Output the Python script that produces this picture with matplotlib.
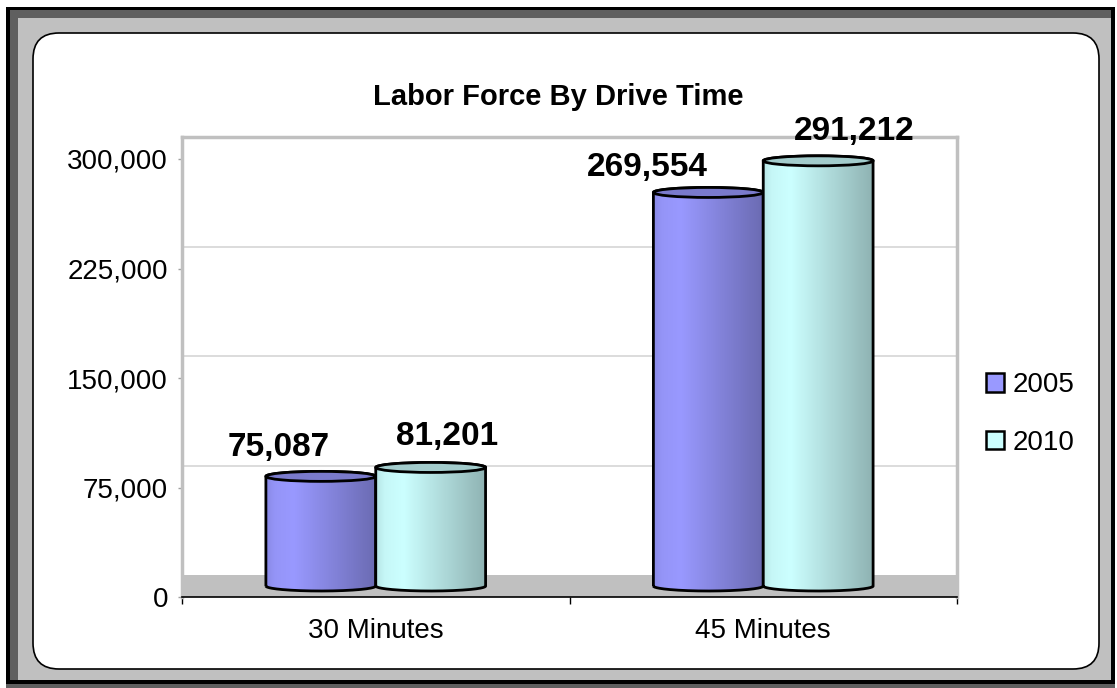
import numpy as np
import matplotlib
matplotlib.use("Agg")
import matplotlib.pyplot as plt
from matplotlib.patches import Rectangle, Ellipse, PathPatch, FancyBboxPatch, Patch
from matplotlib.path import Path
from matplotlib.transforms import IdentityTransform
from matplotlib.ticker import FuncFormatter

# Data
categories = ["30 Minutes", "45 Minutes"]
series_names = ["2005", "2010"]
values_2005 = [75087, 269554]
values_2010 = [81201, 291212]
y_ticks = [0, 75000, 150000, 225000, 300000]

series_colors = ["#9999FF", "#CCFFFF"]
# label offsets in pixels (dx, dy) for each series / category
label_offsets = [[(-42, 29), (-61, 25)], [(16, 31), (36, 29)]]

plt.rcParams['font.family'] = ['Liberation Sans', 'DejaVu Sans']

W, H = 1117, 688
fig = plt.figure(figsize=(W / 100, H / 100), dpi=100)
fig.patch.set_facecolor("white")


def px_rect(x0, y0, x1, y1, **kw):
    # pixel box with top-left origin -> display coordinates
    return Rectangle((x0, H - y1), x1 - x0, y1 - y0, transform=IdentityTransform(), **kw)


# Outer frame
fig.patches.append(px_rect(6, 7, 1115, 688, facecolor="#5F5F5F", edgecolor="none", zorder=-10))
fig.patches.append(px_rect(6, 7, 1115, 684, facecolor="black", edgecolor="none", zorder=-9))
fig.patches.append(px_rect(10, 10, 1111, 680, facecolor="#5F5F5F", edgecolor="none", zorder=-8))
fig.patches.append(px_rect(18, 18, 1111, 680, facecolor="#C0C0C0", edgecolor="none", zorder=-7))
panel = FancyBboxPatch((33, H - 669), 1099 - 33, 669 - 33,
                       boxstyle="round,pad=0,rounding_size=26",
                       transform=IdentityTransform(), facecolor="white",
                       edgecolor="black", linewidth=1.2, zorder=-6)
fig.patches.append(panel)

fig.text(0.5, 1 - 97 / H, "Labor Force By Drive Time", ha="center", va="center",
         fontsize=21, fontweight="bold")

# Plot area (back wall) geometry
ax_left, ax_right, ax_top, ax_bottom = 182, 957, 137, 597
ax = fig.add_axes([ax_left / W, 1 - ax_bottom / H, (ax_right - ax_left) / W, (ax_bottom - ax_top) / H])
ax.set_facecolor("none")

px_per_unit = 438 / 300000
y_max = (ax_bottom - ax_top) / px_per_unit
depth = 22 / px_per_unit          # floor depth
ell_h = 10 / px_per_unit          # cylinder cap height
base = depth / 2

ax.set_xlim(-0.5, len(categories) - 0.5)
ax.set_ylim(0, y_max)

# floor
ax.add_patch(Rectangle((-0.5, 0), len(categories), depth, facecolor="#C0C0C0",
                       edgecolor="none", zorder=1))
ax.plot([len(categories) - 0.5] * 2, [0, depth], color="black", lw=1, zorder=2)

# back wall gridlines
for t in y_ticks[1:]:
    ax.plot([-0.5, len(categories) - 0.5], [t + depth] * 2, color="#D6D6D6", lw=1.2, zorder=0.5)

bar_w = 110 / 388


def cylinder(cx, top, color, z):
    x0, x1 = cx - bar_w / 2, cx + bar_w / 2
    t1 = np.linspace(np.pi, 2 * np.pi, 80)
    t2 = np.linspace(0, np.pi, 80)
    lower = np.column_stack([cx + bar_w / 2 * np.cos(t1), base + ell_h / 2 * np.sin(t1)])
    upper = np.column_stack([cx + bar_w / 2 * np.cos(t2), top + ell_h / 2 * np.sin(t2)])
    verts = np.vstack([lower, upper, lower[:1]])
    outline = PathPatch(Path(verts), facecolor="none", edgecolor="black", lw=2.0, zorder=z + 0.2)
    ax.add_patch(outline)

    rgb = np.array(matplotlib.colors.to_rgb(color))
    tt = np.linspace(0, 1, 200)
    f = np.interp(tt, [0, 0.08, 0.25, 0.5, 0.8, 1.0], [0.9, 0.97, 1.0, 0.9, 0.78, 0.7])
    grad = np.clip(rgb[None, None, :] * f[None, :, None], 0, 1)
    im = ax.imshow(grad, extent=(x0, x1, base - ell_h, top + ell_h), aspect="auto",
                   interpolation="bilinear", zorder=z)
    im.set_clip_path(outline)

    ax.add_patch(Ellipse((cx, top), bar_w, ell_h, facecolor=np.clip(rgb * 0.8, 0, 1),
                         edgecolor="black", lw=2.0, zorder=z + 0.3))


for s, vals in enumerate([values_2005, values_2010]):
    for i, v in enumerate(vals):
        cx = i + (s - 0.5) * bar_w
        top = base + v
        cylinder(cx, top, series_colors[s], 3 + s)
        dx, dy = label_offsets[s][i]
        ax.annotate(f"{v:,}", xy=(cx, top), xytext=(dx * 0.72, dy * 0.72),
                    textcoords="offset points", ha="center", va="center",
                    fontsize=24, fontweight="bold", zorder=10)

ax.set_xlim(-0.5, len(categories) - 0.5)
ax.set_ylim(0, y_max)

# axes styling
for side in ["left", "top", "right"]:
    ax.spines[side].set_color("#C0C0C0")
    ax.spines[side].set_linewidth(2.5)
ax.spines["bottom"].set_color("black")
ax.spines["bottom"].set_linewidth(1.2)

ax.set_yticks(y_ticks)
ax.yaxis.set_major_formatter(FuncFormatter(lambda v, p: f"{int(v):,}"))
ax.tick_params(axis="y", colors="#A0A0A0", length=3, width=1, pad=7, labelsize=20, labelcolor="black")

ax.set_xticks(range(len(categories)))
ax.set_xticklabels(categories)
ax.set_xticks(np.arange(-0.5, len(categories), 1.0), minor=True)
ax.tick_params(axis="x", which="major", length=0, pad=15, labelsize=20)
ax.tick_params(axis="x", which="minor", length=5, width=1, color="black")

handles = [Patch(facecolor=c, edgecolor="black", lw=1.8) for c in series_colors]
fig.legend(handles, series_names, loc="center left", bbox_to_anchor=(961 / W, 1 - 414 / H),
           frameon=False, fontsize=20, handlelength=0.65, handleheight=0.65,
           handletextpad=0.3, labelspacing=1.15)

fig.savefig("out.png", dpi=100)
